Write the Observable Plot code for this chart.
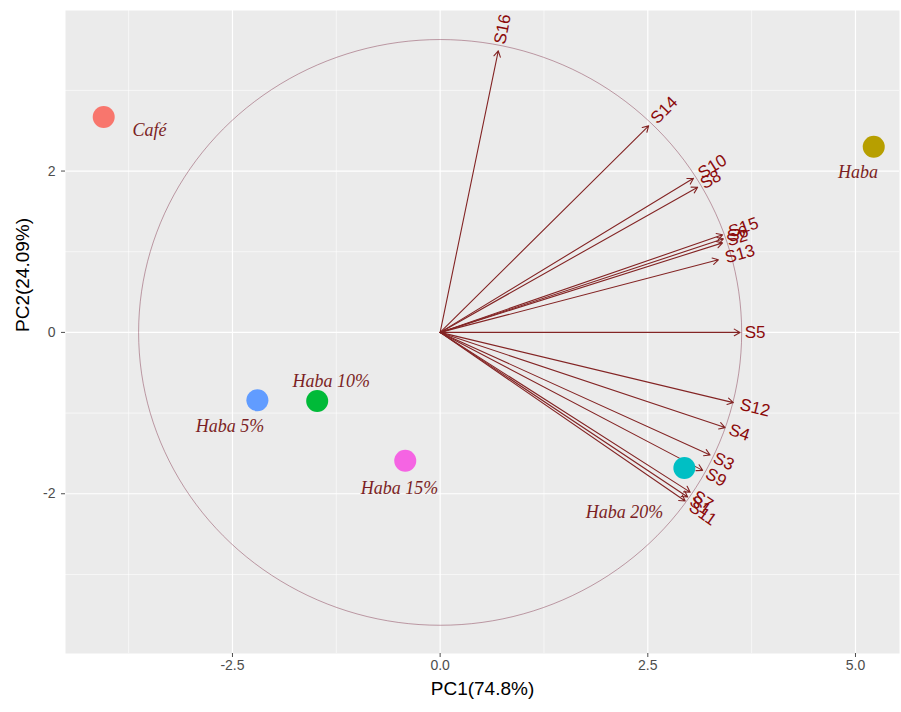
<!DOCTYPE html>
<html><head><meta charset="utf-8">
<script src="https://cdn.jsdelivr.net/npm/d3@7"></script>
<script src="https://cdn.jsdelivr.net/npm/@observablehq/plot@0.6"></script>
<style>body{margin:0;background:#fff}</style>
</head><body><div id="chart"></div>
<script>
// Samples (scores)
const samples = ["Café","Haba","Haba 5%","Haba 10%","Haba 15%","Haba 20%"];
const pc1 = [-4.05, 5.22, -2.20, -1.48, -0.42, 2.94];
const pc2 = [2.67, 2.30, -0.84, -0.85, -1.59, -1.68];
const labelPc1 = [-3.50, 5.03, -2.53, -1.31, -0.49, 2.22];
const labelPc2 = [2.50, 1.98, -1.16, -0.61, -1.93, -2.23];
const sampleColors = ["#F8766D","#B79F00","#619CFF","#00BA38","#F564E3","#00BFC4"];

// Variables (loadings, scaled)
const variables = ["S16","S14","S10","S8","S15","S6","S2","S13","S5","S12","S4","S3","S9","S7","S1","S11"];
const loadX = [0.70, 2.51, 3.05, 3.10, 3.40, 3.41, 3.40, 3.35, 3.61, 3.53, 3.43, 3.25, 3.16, 3.01, 2.98, 2.95];
const loadY = [3.49, 2.56, 1.91, 1.80, 1.21, 1.16, 1.11, 0.90, 0.00, -0.87, -1.18, -1.52, -1.71, -1.98, -2.04, -2.09];

const circleRadius = 3.63;
const xTicks = [-2.5, 0, 2.5, 5];
const yTicks = [-2, 0, 2];
const xMinor = [-3.75, -1.25, 1.25, 3.75];
const yMinor = [-3, -1, 1, 3];
const xTitle = "PC1(74.8%)";
const yTitle = "PC2(24.09%)";

const sampleData = samples.map((name, i) => ({name, x: pc1[i], y: pc2[i], lx: labelPc1[i], ly: labelPc2[i], color: sampleColors[i]}));
const pxPerUnit = 83;
const varData = variables.map((name, i) => {
  const x = loadX[i], y = loadY[i];
  const th = Math.atan2(y, x);
  const off = 0.25 * name.length * 9.5 / pxPerUnit;
  return {name, x, y, tx: x + Math.cos(th) * off, ty: y + Math.sin(th) * off, angle: -Math.atan(y / x) * 180 / Math.PI};
});
const circle = d3.range(0, 361, 2).map(a => ({x: circleRadius * Math.cos(a * Math.PI / 180), y: circleRadius * Math.sin(a * Math.PI / 180)}));

const plot = Plot.plot({
  width: 901, height: 712,
  marginLeft: 65, marginRight: 2, marginTop: 10, marginBottom: 59,
  x: {domain: [-4.51, 5.53]},
  y: {domain: [-3.98, 3.99]},
  style: {fontFamily: "'Liberation Sans', Arial, sans-serif", background: "#fff"},
  marks: [
    Plot.frame({fill: "#EBEBEB", stroke: null}),
    Plot.gridX(xMinor, {stroke: "#fff", strokeOpacity: 1, strokeWidth: 0.6}),
    Plot.gridY(yMinor, {stroke: "#fff", strokeOpacity: 1, strokeWidth: 0.6}),
    Plot.gridX(xTicks, {stroke: "#fff", strokeOpacity: 1, strokeWidth: 1.2}),
    Plot.gridY(yTicks, {stroke: "#fff", strokeOpacity: 1, strokeWidth: 1.2}),
    Plot.axisX(xTicks, {tickFormat: d => d.toFixed(1), tickSize: 4, tickPadding: 3, fontSize: 14, color: "#4D4D4D", label: null}),
    Plot.axisY(yTicks, {tickFormat: d => String(d), tickSize: 4, tickPadding: 6, fontSize: 14, color: "#4D4D4D", label: null}),
    Plot.line(circle, {x: "x", y: "y", stroke: "#7E2E48", strokeOpacity: 0.45, strokeWidth: 1}),
    Plot.arrow(varData, {x1: 0, y1: 0, x2: "x", y2: "y", stroke: "#832424", strokeWidth: 1.1, headLength: 9, headAngle: 60}),
    Plot.dot(sampleData, {x: "x", y: "y", fill: "color", r: 11, stroke: null}),
    Plot.text(sampleData, {x: "lx", y: "ly", text: "name", fill: "#7B1F24", fontStyle: "italic", fontFamily: "'Liberation Serif', 'Times New Roman', serif", fontSize: 18}),
    Plot.text(varData, {x: "tx", y: "ty", text: "name", rotate: "angle", textAnchor: "start", fill: "#8B0A0A", fontSize: 17}),
    Plot.text([xTitle], {frameAnchor: "bottom", dy: 41, text: d => d, fontSize: 19, fill: "#000"}),
    Plot.text([yTitle], {frameAnchor: "left", dx: -43, rotate: -90, text: d => d, fontSize: 19, fill: "#000"})
  ]
});
document.getElementById("chart").appendChild(plot);
</script>
</body></html>
